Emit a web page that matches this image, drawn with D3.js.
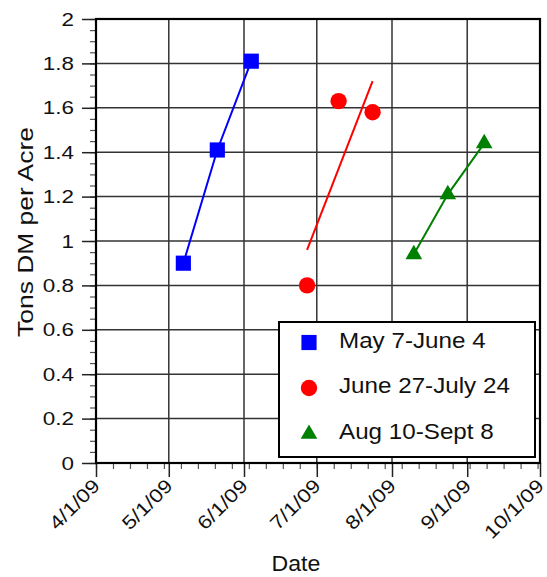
<!DOCTYPE html>
<html>
<head>
<meta charset="utf-8">
<script src="https://cdn.jsdelivr.net/npm/d3@7"></script>
<style>
  body { margin: 0; background: #fff; }
  text { font-family: "Liberation Sans", Arial, Helvetica, sans-serif; fill: #111; }
</style>
</head>
<body>
<div id="chart"></div>
<script>
// data
var blueDates = ["5/7/2009", "5/21/2009", "6/4/2009"];
var blueTons = [0.9, 1.41, 1.81];

var redDates = ["6/27/2009", "7/10/2009", "7/24/2009"];
var redTons = [0.8, 1.63, 1.58];

// trend line drawn through the red points (end points)
var redFitDates = ["6/27/2009", "7/24/2009"];
var redFitTons = [0.96, 1.72];

var greenDates = ["8/10/2009", "8/24/2009", "9/8/2009"];
var greenTons = [0.94, 1.21, 1.44];

var legendLabels = ["May 7-June 4", "June 27-July 24", "Aug 10-Sept 8"];

var xTickDates = ["4/1/2009", "5/1/2009", "6/1/2009", "7/1/2009", "8/1/2009", "9/1/2009", "10/1/2009"];
var yTickValues = [0, 0.2, 0.4, 0.6, 0.8, 1, 1.2, 1.4, 1.6, 1.8, 2];

var svgWidth = 547;
var svgHeight = 577;

var plot = { left: 96, right: 540, top: 19, bottom: 463 };

var parseDate = d3.utcParse("%m/%d/%Y");
var fmtDate = d3.utcFormat("%-m/%-d/%y");

var svg = d3.select("#chart")
	.append("svg")
	.attr("width", svgWidth)
	.attr("height", svgHeight);

var xTicks = xTickDates.map(parseDate);

var x = d3.scaleUtc()
	.domain([xTicks[0], xTicks[xTicks.length - 1]])
	.range([plot.left, plot.right]);

var y = d3.scaleLinear()
	.domain([0, 2])
	.range([plot.bottom, plot.top]);

// stretch text a bit, the original font is wider than Arial
function widen(sel, k) {
	sel.each(function () {
		var len = this.getComputedTextLength();
		d3.select(this)
			.attr("textLength", len * k)
			.attr("lengthAdjust", "spacingAndGlyphs");
	});
}

// grid
svg.append("g")
	.selectAll("line")
	.data(xTicks)
	.enter()
	.append("line")
	.attr("x1", d => x(d))
	.attr("x2", d => x(d))
	.attr("y1", plot.top)
	.attr("y2", plot.bottom)
	.attr("stroke", "#333")
	.attr("stroke-width", 1.5);

svg.append("g")
	.selectAll("line")
	.data(yTickValues)
	.enter()
	.append("line")
	.attr("x1", plot.left)
	.attr("x2", plot.right)
	.attr("y1", d => y(d))
	.attr("y2", d => y(d))
	.attr("stroke", "#333")
	.attr("stroke-width", 1.5);

// minor ticks (weekly on x, every 0.05 on y)
var weeks = d3.utcDay.range(xTicks[0], xTicks[xTicks.length - 1], 7);
var yMinor = d3.range(0, 2.001, 0.05);

var xAxisMinor = d3.axisBottom(x).tickValues(weeks).tickSize(6).tickFormat("");
var yAxisMinor = d3.axisLeft(y).tickValues(yMinor).tickSize(6).tickFormat("");

svg.append("g")
	.attr("transform", `translate(0, ${plot.bottom})`)
	.call(xAxisMinor)
	.call(g => g.select(".domain").remove())
	.selectAll("line").attr("stroke", "#555").attr("stroke-width", 1.2);

svg.append("g")
	.attr("transform", `translate(${plot.left}, 0)`)
	.call(yAxisMinor)
	.call(g => g.select(".domain").remove())
	.selectAll("line").attr("stroke", "#555").attr("stroke-width", 1.2);

// major ticks
var xAxis = d3.axisBottom(x).tickValues(xTicks).tickSize(14).tickFormat("");
var yAxis = d3.axisLeft(y).tickValues(yTickValues).tickSize(14).tickPadding(8)
	.tickFormat(d3.format("~g"));

svg.append("g")
	.attr("transform", `translate(0, ${plot.bottom})`)
	.call(xAxis)
	.call(g => g.select(".domain").remove())
	.selectAll("line").attr("stroke", "#222").attr("stroke-width", 1.5);

var yAxisG = svg.append("g")
	.attr("transform", `translate(${plot.left}, 0)`)
	.call(yAxis)
	.call(g => g.select(".domain").remove());
yAxisG.selectAll("line").attr("stroke", "#222").attr("stroke-width", 1.5);
yAxisG.selectAll("text")
	.attr("font-size", 19)
	.attr("fill", "#111")
	.call(widen, 1.18);

// rotated date labels
var xLabels = svg.append("g")
	.selectAll("text")
	.data(xTicks)
	.enter()
	.append("text")
	.attr("transform", d => `translate(${x(d) + 5}, 487) rotate(-45)`)
	.attr("text-anchor", "end")
	.attr("font-size", 19)
	.text(d => fmtDate(d))
	.call(widen, 1.18);

// plot frame
svg.append("rect")
	.attr("x", plot.left)
	.attr("y", plot.top)
	.attr("width", plot.right - plot.left)
	.attr("height", plot.bottom - plot.top)
	.attr("fill", "none")
	.attr("stroke", "#000")
	.attr("stroke-width", 2.2);

// series
function series(dates, tons) {
	return dates.map((d, i) => ({ date: parseDate(d), tons: tons[i] }));
}

var blue = series(blueDates, blueTons);
var red = series(redDates, redTons);
var redFit = series(redFitDates, redFitTons);
var green = series(greenDates, greenTons);

var line = d3.line()
	.x(d => x(d.date))
	.y(d => y(d.tons));

svg.append("path").datum(blue)
	.attr("d", line).attr("fill", "none").attr("stroke", "#0000ff").attr("stroke-width", 2);
svg.append("path").datum(redFit)
	.attr("d", line).attr("fill", "none").attr("stroke", "#ff0000").attr("stroke-width", 2);
svg.append("path").datum(green)
	.attr("d", line).attr("fill", "none").attr("stroke", "#008000").attr("stroke-width", 2);

var squareSym = d3.symbol().type(d3.symbolSquare).size(230);
var circleSym = d3.symbol().type(d3.symbolCircle).size(210);
var triSym = d3.symbol().type(d3.symbolTriangle).size(120);

svg.append("g").selectAll("path")
	.data(blue).enter().append("path")
	.attr("d", squareSym)
	.attr("transform", d => `translate(${x(d.date)}, ${y(d.tons)})`)
	.attr("fill", "#0000ff");

svg.append("g").selectAll("path")
	.data(red).enter().append("path")
	.attr("d", circleSym)
	.attr("transform", d => `translate(${x(d.date)}, ${y(d.tons)})`)
	.attr("fill", "#ff0000");

svg.append("g").selectAll("path")
	.data(green).enter().append("path")
	.attr("d", triSym)
	.attr("transform", d => `translate(${x(d.date)}, ${y(d.tons)})`)
	.attr("fill", "#008000");

// legend
var legend = svg.append("g");
legend.append("rect")
	.attr("x", 279)
	.attr("y", 322)
	.attr("width", 256)
	.attr("height", 135)
	.attr("fill", "#fff")
	.attr("stroke", "#000")
	.attr("stroke-width", 2);

var legendSyms = [squareSym, circleSym, triSym];
var legendColors = ["#0000ff", "#ff0000", "#008000"];
var legendY = [342.5, 388, 434];

legendLabels.forEach(function (lab, i) {
	legend.append("path")
		.attr("d", legendSyms[i])
		.attr("transform", `translate(309, ${legendY[i]})`)
		.attr("fill", legendColors[i]);
	legend.append("text")
		.attr("x", 339)
		.attr("y", legendY[i] + 5)
		.attr("font-size", 22)
		.text(lab)
		.call(widen, 1.1);
});

// axis titles
svg.append("text")
	.attr("x", 296)
	.attr("y", 571)
	.attr("text-anchor", "middle")
	.attr("font-size", 22)
	.text("Date")
	.call(widen, 1.05);

svg.append("text")
	.attr("transform", "translate(33, 232) rotate(-90)")
	.attr("text-anchor", "middle")
	.attr("font-size", 22)
	.text("Tons DM per Acre")
	.call(widen, 1.2);
</script>
</body>
</html>
